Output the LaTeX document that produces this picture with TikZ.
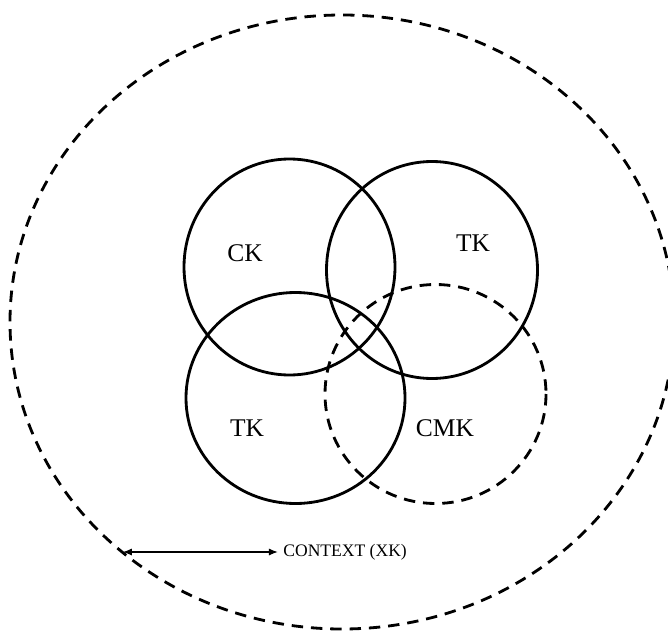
\documentclass[tikz,border=0pt]{standalone}
\usepackage{fontspec}
\setmainfont{Liberation Serif}
\usetikzlibrary{arrows.meta,positioning}

\tikzset{
  ring/.style={line width=1.6pt},
  dashring/.style={line width=1.6pt, dash pattern=on 6.5pt off 4.5pt},
  lbl/.style={font=\fontsize{14.5}{17}\selectfont, inner sep=0pt},
}

\begin{document}
\begin{tikzpicture}[x=0.02cm, y=-0.02cm]
            \useasboundingbox (0,0) rectangle (668,631);

            % Context
            \draw[dashring] (342,322) ellipse [x radius=332, y radius=307];

            % Knowledge circles
            \draw[ring] (289.5,267) ellipse [x radius=105.5, y radius=108];
            \draw[ring] (432,270) ellipse [x radius=105.5, y radius=108.5];
            \draw[ring] (295.5,398) ellipse [x radius=109.5, y radius=105.5];
            \draw[dashring] (435.5,394) ellipse [x radius=110.5, y radius=109.5];

            % Labels
            \node[lbl] (ck) at (245,253) {CK};
            \node[lbl] (tkup) at (473,243) {TK};
            \node[lbl] (tklow) at (247,428) {TK};
            \node[lbl] (cmk) at (445,428) {CMK};

            % Context arrow
            \coordinate (rim) at (123,552);
            \node[font=\fontsize{10}{12}\selectfont, inner sep=0pt, anchor=west] (ctx) at (283,552) {CONTEXT (XK)};
            \draw[{Latex[length=5pt,width=4pt]}-{Latex[length=5pt,width=4pt]}, line width=0.6pt] (rim) -- ([xshift=-3pt]ctx.west);
\end{tikzpicture}
\end{document}
